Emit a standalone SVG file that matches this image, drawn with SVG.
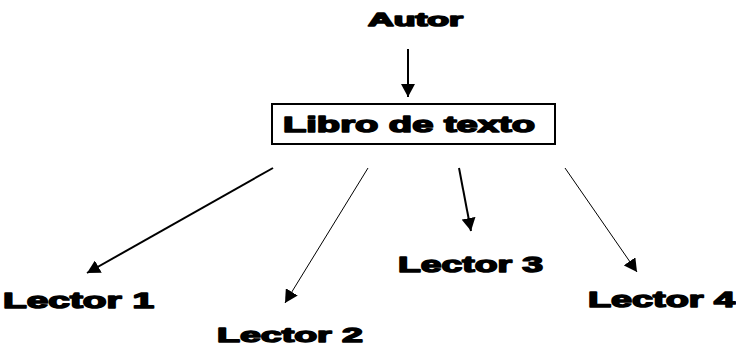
<svg xmlns="http://www.w3.org/2000/svg" width="736" height="347" viewBox="0 0 736 347">
<defs>
<style>
.t{font-family:"Liberation Sans",Arial,sans-serif;font-weight:bold;fill:#000;stroke:#000;stroke-width:1.5;stroke-linejoin:round}
.c{stroke:#000;fill:none}
</style>
<marker id="ah" markerUnits="userSpaceOnUse" markerWidth="14" markerHeight="14" refX="13" refY="7" orient="auto" viewBox="0 0 14 14">
<path d="M0,0 L13,7 L0,14 z" fill="#000"/>
</marker>
</defs>
<rect width="736" height="347" fill="#fff"/>
<g id="autor"><text class="t" x="368" y="26" font-size="18" textLength="95" lengthAdjust="spacingAndGlyphs">Autor</text></g>
<g id="libro">
<rect x="272" y="104" width="283" height="40" fill="#fff" stroke="#000" stroke-width="2"/>
<text class="t" x="283" y="132" font-size="22" textLength="252" lengthAdjust="spacingAndGlyphs">Libro de texto</text>
</g>
<g id="lector1"><text class="t" x="3" y="308" font-size="22" textLength="151" lengthAdjust="spacingAndGlyphs">Lector 1</text></g>
<g id="lector2"><text class="t" x="217" y="342" font-size="21" textLength="146" lengthAdjust="spacingAndGlyphs">Lector 2</text></g>
<g id="lector3"><text class="t" x="398" y="272" font-size="22" textLength="145" lengthAdjust="spacingAndGlyphs">Lector 3</text></g>
<g id="lector4"><text class="t" x="588" y="307" font-size="22" textLength="147" lengthAdjust="spacingAndGlyphs">Lector 4</text></g>
<g id="connectors">
<line class="c" stroke-width="2" x1="408" y1="49" x2="408" y2="97" marker-end="url(#ah)"/>
<line class="c" stroke-width="2" x1="273" y1="168" x2="87" y2="273" marker-end="url(#ah)"/>
<line class="c" stroke-width="1" x1="368" y1="168" x2="285" y2="303" marker-end="url(#ah)"/>
<line class="c" stroke-width="2" x1="459" y1="168" x2="471" y2="231" marker-end="url(#ah)"/>
<line class="c" stroke-width="1" x1="565" y1="168" x2="637" y2="272" marker-end="url(#ah)"/>
</g>
</svg>
